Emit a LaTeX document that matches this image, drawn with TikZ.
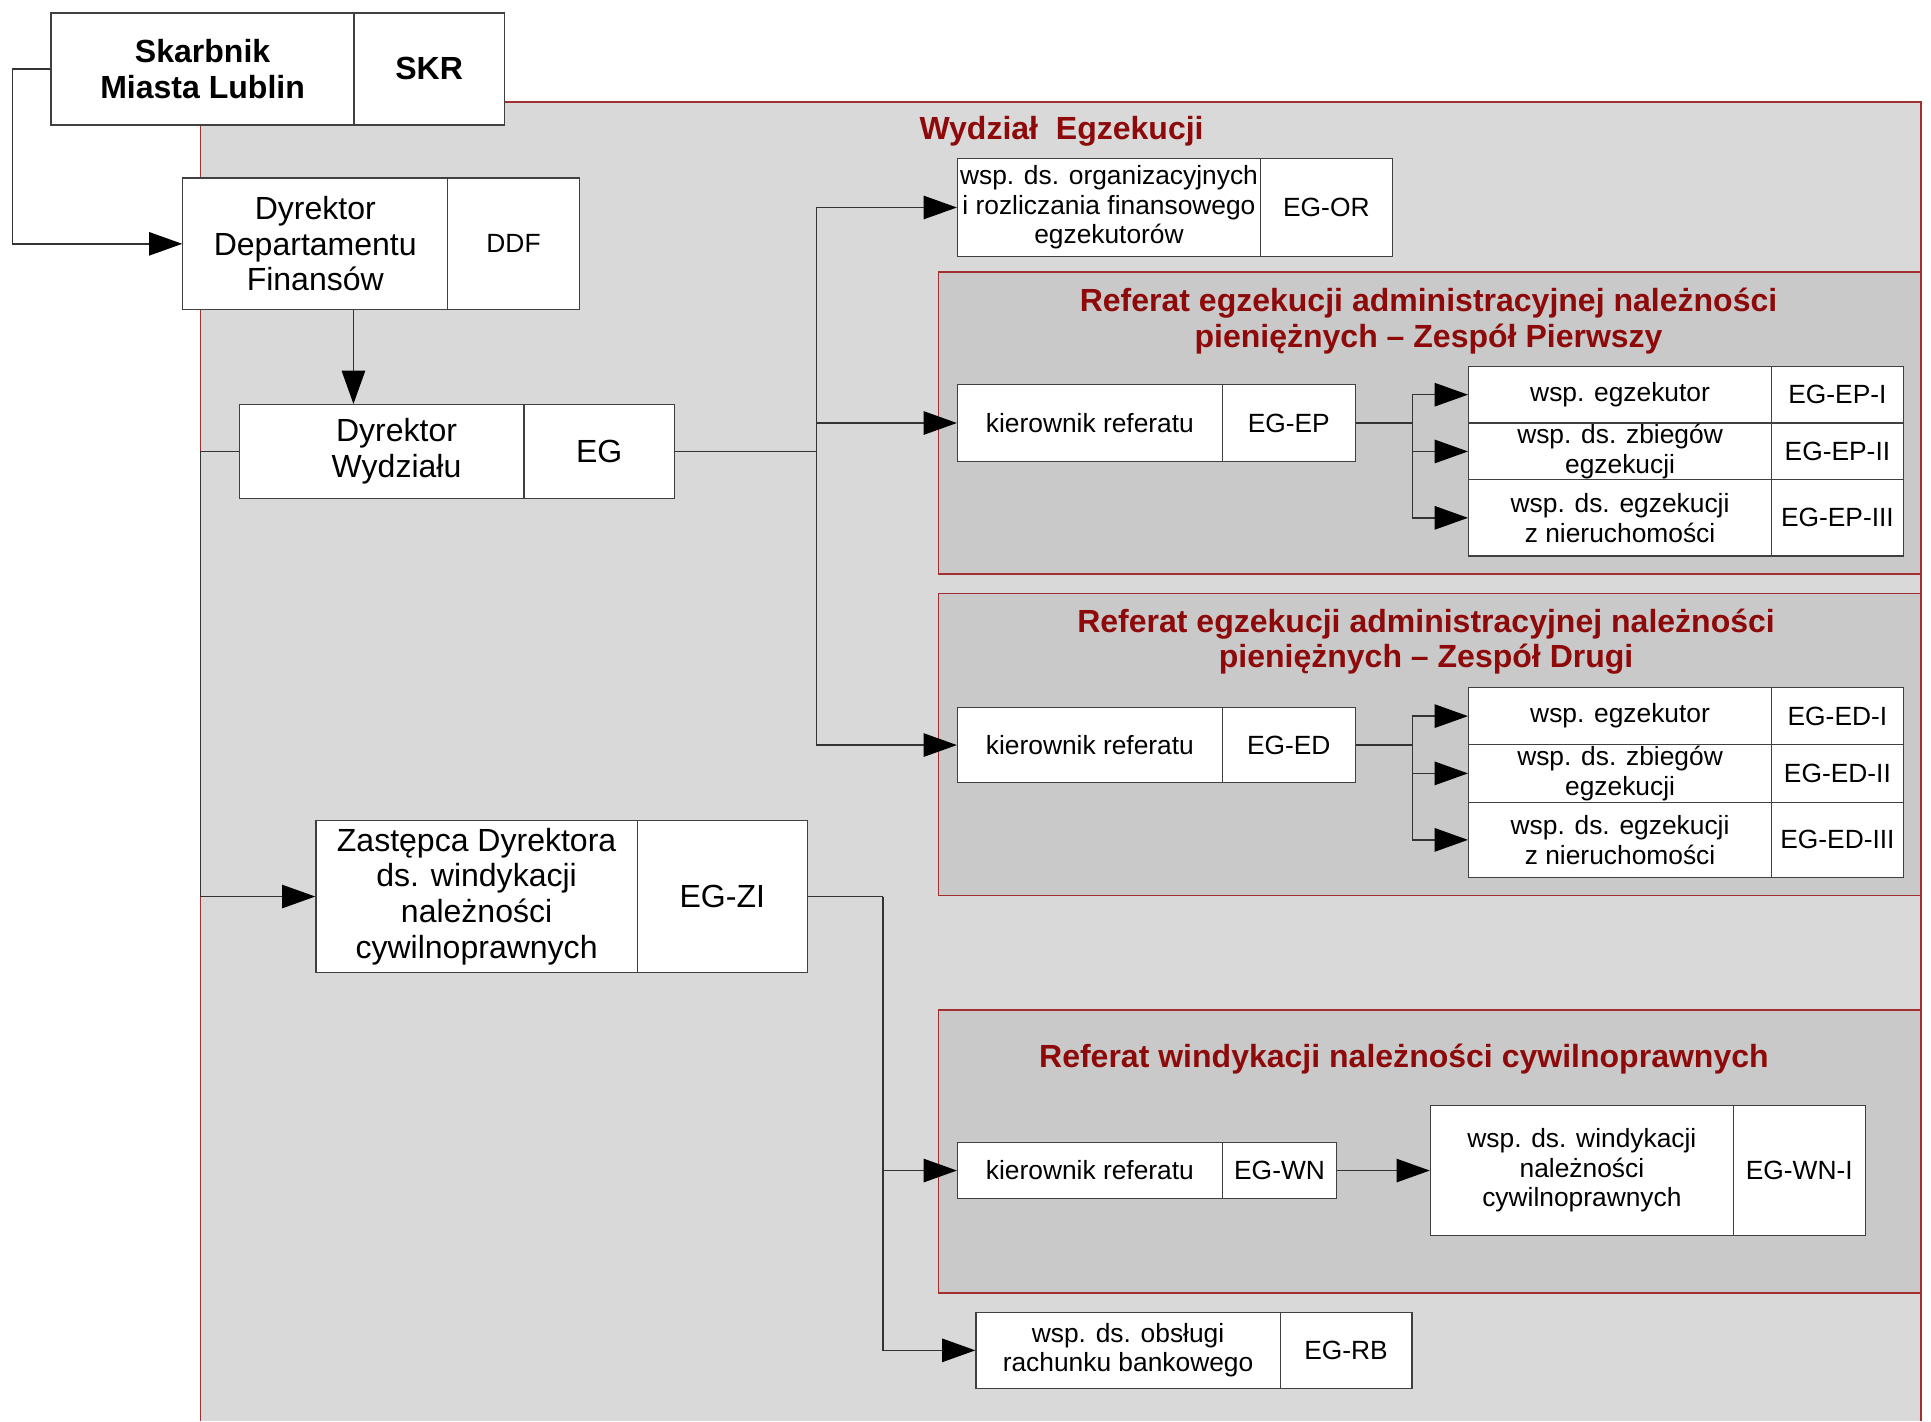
\documentclass[tikz,border=0pt]{standalone}
\usepackage{fontspec}
\setmainfont{Liberation Sans}
\usetikzlibrary{arrows.meta}
\newcommand\bigtxt{\fontsize{13}{14.5}\selectfont}
\newcommand\smalltxt{\fontsize{10.7}{12}\selectfont}
\definecolor{deptgray}{HTML}{D9D9D9}
\definecolor{refgray}{HTML}{C9C9C9}
\definecolor{deptred}{HTML}{A33030}
\definecolor{titlered}{HTML}{8E0A0A}
\tikzset{
	cell/.style={draw=black!75, fill=white, line width=0.5pt, inner sep=0.5pt, align=center, anchor=north west},
	bigtext/.style={font=\bigtxt},
	smalltext/.style={font=\smalltxt},
	link/.style={draw=black!80, line width=0.6pt},
	arrow/.style={link, -{Triangle[length=13.5pt,width=9.5pt,color=black]}},
	referat/.style={fill=refgray, draw=deptred, line width=0.6pt},
	title/.style={font=\bigtxt\bfseries, text=titlered, align=center},
}
% name, x left, x divider, x right, y top, y bottom, style, text, code
\newcommand\orgunit[9]{%
	\node[cell, #7, minimum width={0.5pt*(#3-#2)}, minimum height={0.5pt*(#6-#5)}] (#1) at (#2,#5) {#8};
	\node[cell, #7, minimum width={0.5pt*(#4-#3)}, minimum height={0.5pt*(#6-#5)}] (#1-code) at (#3,#5) {#9};
}
\begin{document}
\begin{tikzpicture}[x=0.5pt, y=-0.5pt]
			\useasboundingbox (0,0) rectangle (1568,1154);
			%%%%% WYDZIAL %%%%%
			
			\fill[deptgray] (163,83) rectangle (1560,1154);
			\draw[deptred, line width=0.6pt] (163,1154) -- (163,83) -- (1560,83) -- (1560,1154);
			\node[title] (wydzial) at (862,107) {Wydział~ Egzekucji};
			
			\draw[referat] (762,221) rectangle (1560,466);
			\node[title] (tytul-ep) at (1160,260.5) {Referat egzekucji administracyjnej należności\\pieniężnych – Zespół Pierwszy};
			
			\draw[referat] (762,482) rectangle (1560,727);
			\node[title] (tytul-ed) at (1158,521) {Referat egzekucji administracyjnej należności\\pieniężnych – Zespół Drugi};
			
			\draw[referat] (762,820) rectangle (1560,1050);
			\node[title] (tytul-wn) at (1140,860) {Referat windykacji należności cywilnoprawnych};
			
			%%%%% STANOWISKA %%%%%
			
			\orgunit{skr}{41}{287}{409}{10}{101}{bigtext, font=\bigtxt\bfseries}{Skarbnik\\Miasta Lublin}{SKR}
			\orgunit{ddf}{148}{363}{470}{144}{251}{bigtext}{Dyrektor\\Departamentu\\Finansów}{\smalltxt DDF}
			\orgunit{dw}{194}{425}{547}{328}{404}{bigtext}{\hspace{12pt}Dyrektor\\\hspace{12pt}Wydziału}{EG}
			\orgunit{zi}{256}{517}{655}{666}{789}{bigtext}{Zastępca Dyrektora\\ds. windykacji\\należności\\cywilnoprawnych}{EG-ZI}
			
			\orgunit{or}{777}{1023}{1130}{128}{208}{smalltext}{wsp. ds. organizacyjnych\\i rozliczania finansowego\\egzekutorów}{EG-OR}
			
			\orgunit{ep}{777}{992}{1100}{312}{374}{smalltext}{kierownik referatu}{EG-EP}
			\orgunit{ep1}{1192}{1438}{1545}{297}{343}{smalltext}{wsp. egzekutor}{EG-EP-I}
			\orgunit{ep2}{1192}{1438}{1545}{343}{389}{smalltext}{wsp. ds. zbiegów\\egzekucji}{EG-EP-II}
			\orgunit{ep3}{1192}{1438}{1545}{389}{451}{smalltext}{wsp. ds. egzekucji\\z nieruchomości}{EG-EP-III}
			
			\orgunit{ed}{777}{992}{1100}{574}{635}{smalltext}{kierownik referatu}{EG-ED}
			\orgunit{ed1}{1192}{1438}{1545}{558}{604}{smalltext}{wsp. egzekutor}{EG-ED-I}
			\orgunit{ed2}{1192}{1438}{1545}{604}{651}{smalltext}{wsp. ds. zbiegów\\egzekucji}{EG-ED-II}
			\orgunit{ed3}{1192}{1438}{1545}{651}{712}{smalltext}{wsp. ds. egzekucji\\z nieruchomości}{EG-ED-III}
			
			\orgunit{wn}{777}{992}{1085}{927}{973}{smalltext}{kierownik referatu}{EG-WN}
			\orgunit{wn1}{1161}{1407}{1514}{897}{1003}{smalltext}{wsp. ds. windykacji\\należności\\cywilnoprawnych}{EG-WN-I}
			
			\orgunit{rb}{792}{1039}{1146}{1065}{1127}{smalltext}{wsp. ds. obsługi\\rachunku bankowego}{EG-RB}
			
			%%%%% POLACZENIA %%%%%
			
			\draw[arrow] (skr.west) -- ++(-31,0) |- (ddf.west);
			\draw[arrow] (skr-code.west |- ddf.south) -- (skr-code.west |- dw.north);
			
			\draw[link] (dw-code.east) -- ++(115,0) coordinate (egbus);
			\foreach \n in {or,ep,ed}
				\draw[arrow] (egbus) |- (\n.west);
			
			\draw[arrow] (dw.west) -- ++(-31,0) |- (zi.west);
			
			\draw[link] (zi-code.east) -- ++(61,0) coordinate (zibus);
			\foreach \n in {wn,rb}
				\draw[arrow] (zibus) |- (\n.west);
			
			\draw[link] (ep-code.east) -- ++(46,0) coordinate (epbus);
			\foreach \n in {ep1,ep2,ep3}
				\draw[arrow] (epbus) |- (\n.west);
			
			\draw[link] (ed-code.east) -- ++(46,0) coordinate (edbus);
			\foreach \n in {ed1,ed2,ed3}
				\draw[arrow] (edbus) |- (\n.west);
			
			\draw[arrow] (wn-code.east) -- (wn1.west);
			
\end{tikzpicture}
\end{document}
